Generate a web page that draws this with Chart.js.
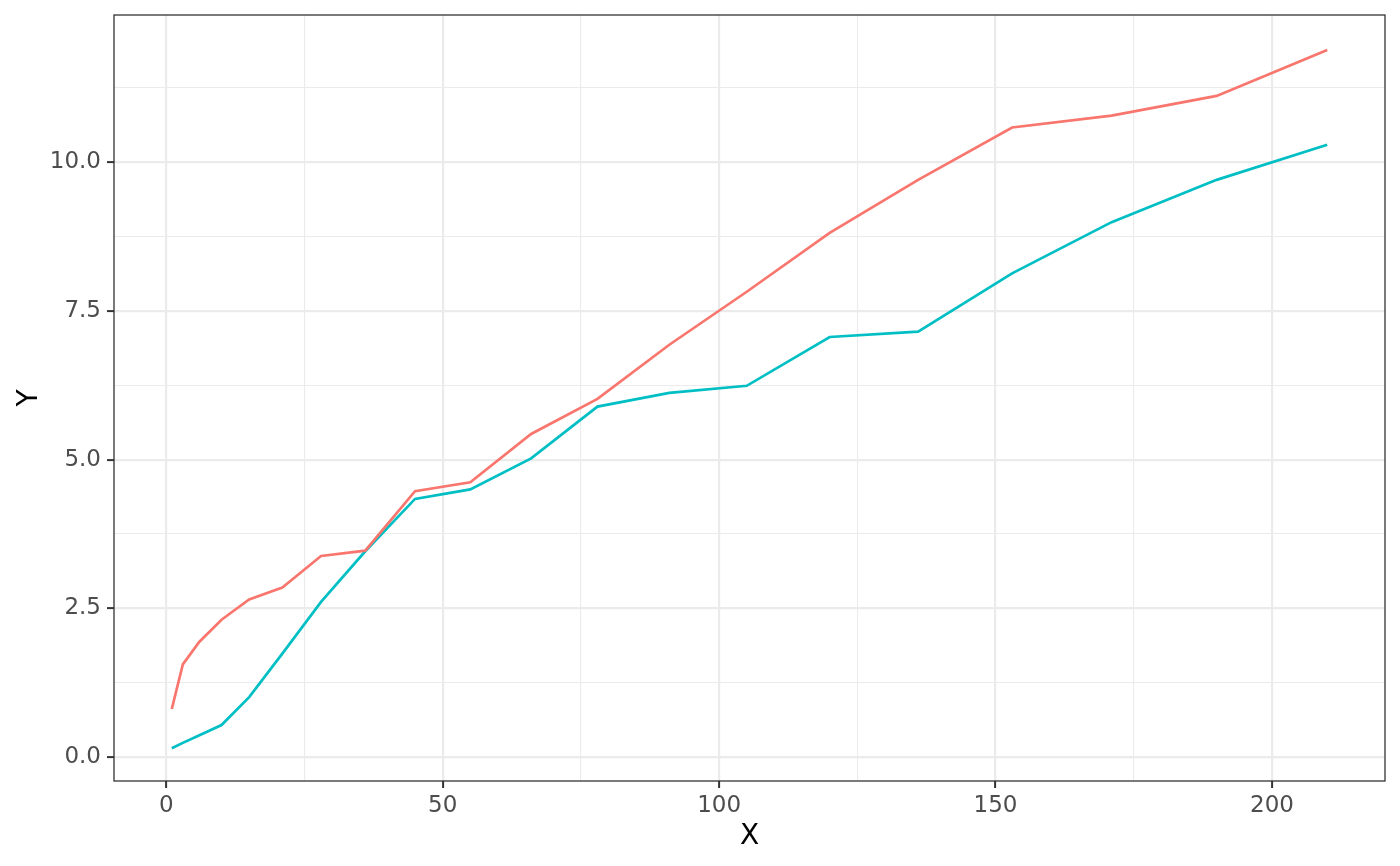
<!DOCTYPE html>
<html>
<head>
<meta charset="utf-8">
<script src="https://cdn.jsdelivr.net/npm/chart.js@4.4.1/dist/chart.umd.min.js"></script>
<style>
html,body{margin:0;padding:0;background:#fff;}
#wrap{width:1400px;height:866px;position:relative;}
</style>
</head>
<body>
<div id="wrap"><canvas id="c" width="1400" height="866"></canvas></div>
<script>
const xValues = [1,3,6,10,15,21,28,36,45,55,66,78,91,105,120,136,153,171,190,210];
const redValues = [0.81,1.56,1.94,2.31,2.65,2.85,3.38,3.47,4.47,4.62,5.43,6.02,6.93,7.82,8.81,9.70,10.58,10.78,11.11,11.88];
const cyanValues = [0.15,0.24,0.37,0.54,1.01,1.74,2.61,3.46,4.34,4.50,5.02,5.89,6.12,6.24,7.06,7.15,8.13,8.99,9.70,10.29];
const xMajorTicks = [0,50,100,150,200];
const xMinorTicks = [25,75,125,175];
const yMajorTicks = [0,2.5,5,7.5,10];
const yMinorTicks = [1.25,3.75,6.25,8.75,11.25];
const yTickLabels = ["0.0","2.5","5.0","7.5","10.0"];
const xLim = [-9.45, 220.45];
const yLim = [-0.40, 12.47];

const toPts = (ys) => xValues.map((x, i) => ({x: x, y: ys[i]}));

const GRID = '#EBEBEB', INK = '#333333', TXT = '#4D4D4D';
const FONT = "'DejaVu Sans', sans-serif";

function tickSet(major, minor, lim) {
  return major.map(v => ({value: v, major: true}))
    .concat(minor.map(v => ({value: v, major: false})))
    .filter(t => t.value >= lim[0] && t.value <= lim[1])
    .sort((a, b) => a.value - b.value);
}

const panelBorder = {
  id: 'panelBorder',
  afterDraw(chart) {
    const a = chart.chartArea, ctx = chart.ctx;
    ctx.save();
    ctx.strokeStyle = INK;
    ctx.lineWidth = 1.3;
    ctx.strokeRect(a.left, a.top, a.right - a.left, a.bottom - a.top);
    ctx.restore();
  }
};

const isMajor = (ctx) => ctx.tick && ctx.tick.major;

new Chart(document.getElementById('c'), {
  type: 'line',
  data: {
    datasets: [
      {label: 'a', data: toPts(redValues), borderColor: '#F8766D', borderWidth: 2.7, pointRadius: 0, fill: false, tension: 0},
      {label: 'b', data: toPts(cyanValues), borderColor: '#00BFC4', borderWidth: 2.7, pointRadius: 0, fill: false, tension: 0}
    ]
  },
  options: {
    responsive: false,
    animation: false,
    devicePixelRatio: 1,
    layout: {padding: {top: 15, right: 15, left: 0, bottom: 0}},
    plugins: {legend: {display: false}, tooltip: {enabled: false}},
    scales: {
      x: {
        type: 'linear',
        min: xLim[0], max: xLim[1],
        afterBuildTicks: (s) => { s.ticks = tickSet(xMajorTicks, xMinorTicks, xLim); },
        afterFit: (s) => { s.height = 85; s.paddingLeft = 0; s.paddingRight = 0; },
        ticks: {
          autoSkip: false, maxRotation: 0,
          color: TXT, font: {family: FONT, size: 23}, padding: 4,
          callback: function(v, i, ticks) { return ticks[i].major ? String(v) : ''; }
        },
        grid: {
          color: GRID,
          lineWidth: (c) => isMajor(c) ? 2.2 : 1.1,
          tickColor: (c) => isMajor(c) ? INK : 'rgba(0,0,0,0)',
          tickLength: 7, tickWidth: 2
        },
        border: {display: false},
        title: {display: true, text: 'X', color: '#000', font: {family: FONT, size: 28}, padding: {top: 12, bottom: 12}}
      },
      y: {
        type: 'linear',
        min: yLim[0], max: yLim[1],
        afterBuildTicks: (s) => { s.ticks = tickSet(yMajorTicks, yMinorTicks, yLim); },
        afterFit: (s) => { s.width = 114; s.paddingTop = 0; s.paddingBottom = 0; },
        ticks: {
          autoSkip: false,
          color: TXT, font: {family: FONT, size: 23}, padding: 6,
          callback: function(v, i, ticks) {
            if (!ticks[i].major) return '';
            const k = yMajorTicks.indexOf(v);
            return k >= 0 ? yTickLabels[k] : '';
          }
        },
        grid: {
          color: GRID,
          lineWidth: (c) => isMajor(c) ? 2.2 : 1.1,
          tickColor: (c) => isMajor(c) ? INK : 'rgba(0,0,0,0)',
          tickLength: 7, tickWidth: 2
        },
        border: {display: false},
        title: {display: true, text: 'Y', color: '#000', font: {family: FONT, size: 28}, padding: {top: 13, bottom: 13}}
      }
    }
  },
  plugins: [panelBorder]
});
</script>
</body>
</html>
